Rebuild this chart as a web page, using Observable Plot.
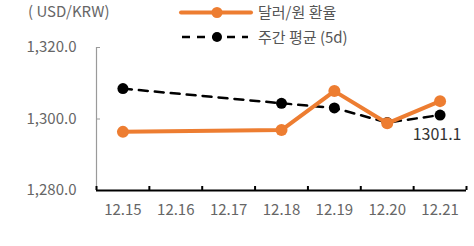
<!DOCTYPE html>
<html><head><meta charset="utf-8">
<script src="https://cdn.jsdelivr.net/npm/d3@7"></script>
<script src="https://cdn.jsdelivr.net/npm/@observablehq/plot@0.6"></script>
<style>
body{margin:0;background:#fff;font-family:"Noto Sans CJK KR","Noto Sans",sans-serif;}
#wrap{position:relative;width:474px;height:246px;}
#legend{position:absolute;left:0;top:0;}
</style></head>
<body><div id="wrap"></div>
<script>
const dates = ["12.15","12.16","12.17","12.18","12.19","12.20","12.21"];
const fxRate = [1296.4, null, null, 1296.9, 1307.8, 1298.8, 1305.0];
const weeklyAvg = [1308.5, null, null, 1304.4, 1303.1, 1299.0, 1301.1];
const yTicks = [1280, 1300, 1320];
const seriesNames = ["달러/원 환율", "주간 평균 (5d)"];
const unitLabel = "( USD/KRW)";
const orange = "#ED7D31";

const rows = dates.map((d,i)=>({i, d, fx: fxRate[i], avg: weeklyAvg[i]}));
const fxRows = rows.filter(r=>r.fx!=null);
const avgRows = rows.filter(r=>r.avg!=null);
const last = avgRows[avgRows.length-1];
const centers = dates.map((_,i)=>i);
const bounds = d3.range(-0.5, dates.length, 1);

const plot = Plot.plot({
  width: 474, height: 246,
  marginLeft: 96, marginRight: 8, marginTop: 47, marginBottom: 56,
  style: {fontFamily: '"Noto Sans CJK KR","Noto Sans",sans-serif', fontSize: "15px", background: "transparent"},
  x: {type: "linear", domain: [-0.5, dates.length - 0.5], label: null},
  y: {domain: [1280, 1320], label: null},
  marks: [
    Plot.ruleX([-0.5], {y1: 1280, y2: 1320, stroke: "#9a9a9a", strokeWidth: 1.2}),
    Plot.axisY({ticks: yTicks, tickSize: -4, stroke: "#9a9a9a", tickFormat: ()=>"", label: null}),
    Plot.axisY({ticks: yTicks, tickSize: 0, tickPadding: 20, fill: "#666", tickFormat: d3.format(",.1f"), label: null}),
    Plot.axisX({ticks: bounds, tickSize: -4, stroke: "#000", strokeWidth: 2, tickFormat: ()=>"", label: null}),
    Plot.axisX({ticks: centers, tickSize: 0, tickPadding: 14, fill: "#666", tickFormat: i => dates[i], label: null}),
    Plot.ruleY([1280], {stroke: "#000", strokeWidth: 2}),
    Plot.line(avgRows, {x: "i", y: "avg", stroke: "#000", strokeWidth: 2.5, strokeDasharray: "9,7"}),
    Plot.dot(avgRows, {x: "i", y: "avg", r: 5.5, fill: "#000"}),
    Plot.line(fxRows, {x: "i", y: "fx", stroke: orange, strokeWidth: 4}),
    Plot.dot(fxRows, {x: "i", y: "fx", r: 6, fill: orange}),
    Plot.text([last], {x: "i", y: "avg", text: d => String(d.avg), dy: 20, dx: -3, fill: "#333", fontSize: 16})
  ]
});
const wrap = document.getElementById("wrap");
wrap.appendChild(plot);

const leg = document.createElement("div");
leg.id = "legend";
leg.innerHTML = `<svg width="474" height="48" style="font-family:'Noto Sans CJK KR','Noto Sans',sans-serif">
 <text x="28" y="17" font-size="15" fill="#666">${unitLabel}</text>
 <line x1="181" x2="251" y1="12.5" y2="12.5" stroke="${orange}" stroke-width="4" stroke-linecap="round"/>
 <circle cx="217" cy="12.5" r="5.5" fill="${orange}"/>
 <text x="258" y="18" font-size="15" fill="#555">${seriesNames[0]}</text>
 <line x1="182" x2="248" y1="37" y2="37" stroke="#000" stroke-width="2.5" stroke-dasharray="8,7"/>
 <circle cx="217" cy="37" r="5" fill="#000"/>
 <text x="258" y="43" font-size="15" fill="#555">${seriesNames[1]}</text>
</svg>`;
wrap.appendChild(leg);
</script></body></html>
